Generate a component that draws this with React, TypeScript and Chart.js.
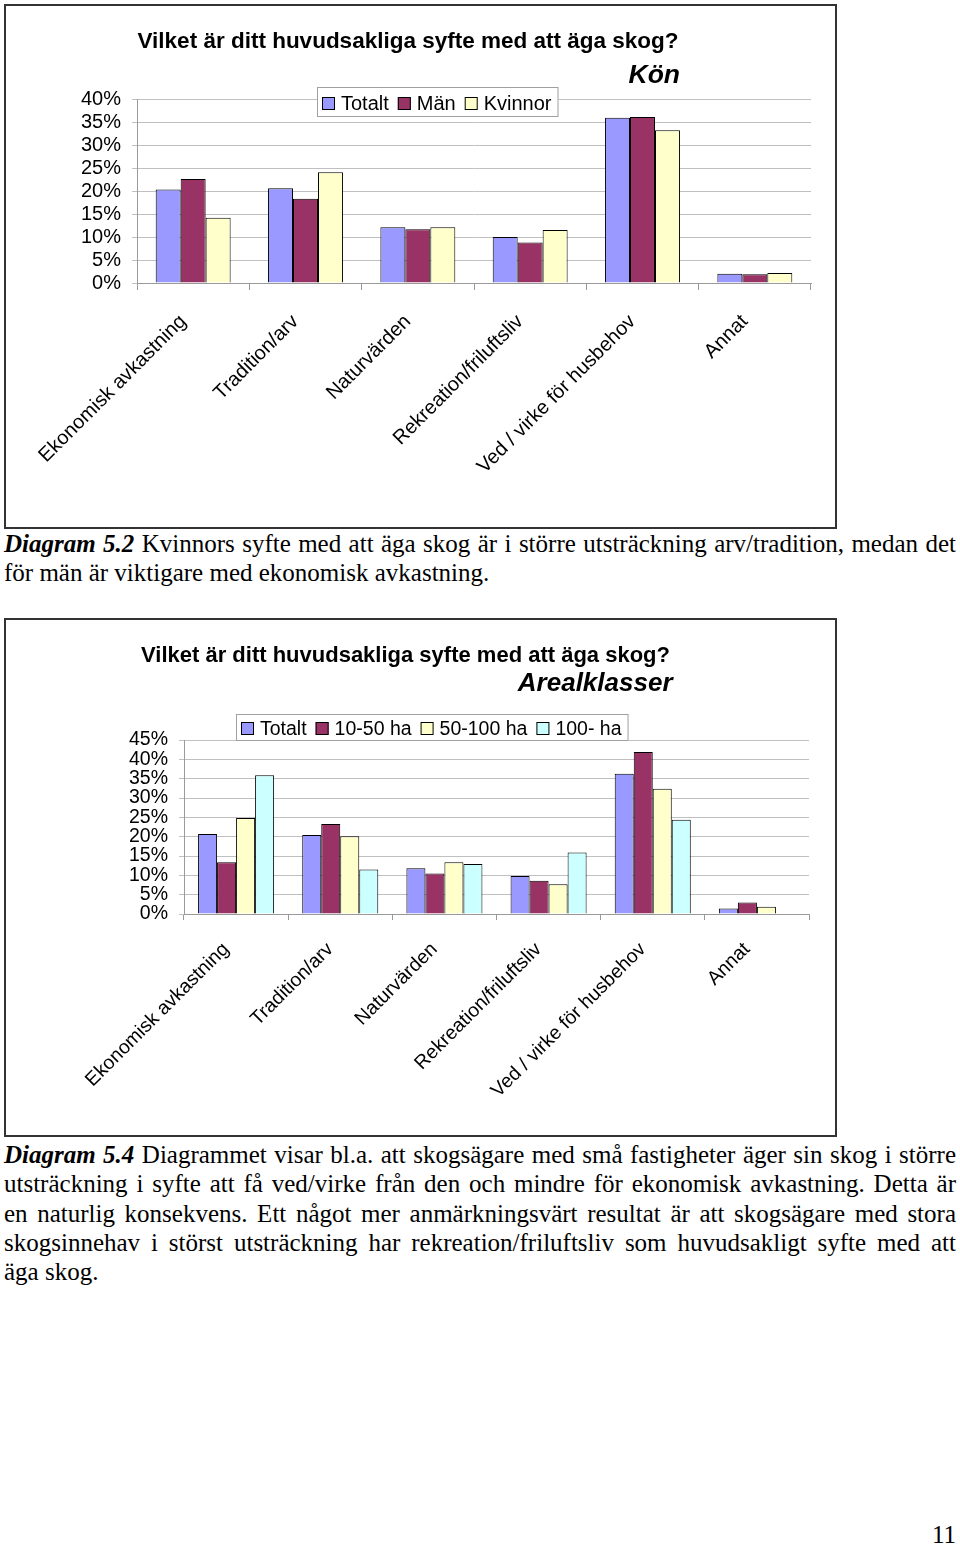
import React, { useEffect, useRef } from 'react';
import { Chart, registerables } from 'chart.js';

Chart.register(...registerables);

const categories = [
  'Ekonomisk avkastning',
  'Tradition/arv',
  'Naturvärden',
  'Rekreation/friluftsliv',
  'Ved / virke för husbehov',
  'Annat',
];

// Diagram 5.2 – Kön
const konLabels = ['Totalt', 'Män', 'Kvinnor'];
const konTotalt = [20.3, 20.6, 12.1, 10.0, 35.9, 2.0];
const konMan = [22.6, 18.3, 11.7, 8.8, 36.1, 1.9];
const konKvinnor = [14.2, 24.1, 12.1, 11.5, 33.2, 2.2];
const konTicks = [0, 5, 10, 15, 20, 25, 30, 35, 40];

// Diagram 5.4 – Arealklasser
const arealLabels = ['Totalt', '10-50 ha', '50-100 ha', '100- ha'];
const arealTotalt = [20.7, 20.4, 11.8, 9.8, 36.3, 1.4];
const areal10to50 = [13.4, 23.3, 10.5, 8.6, 41.9, 3.0];
const areal50to100 = [24.8, 20.1, 13.4, 7.7, 32.4, 1.9];
const areal100plus = [35.9, 11.5, 12.9, 15.9, 24.4, 0];
const arealTicks = [0, 5, 10, 15, 20, 25, 30, 35, 40, 45];

const COLORS = ['#9999FF', '#993366', '#FFFFCC', '#CCFFFF'];
const SANS = '"Liberation Sans", Arial, sans-serif';
const SERIF = '"Liberation Serif", "Times New Roman", serif';

const boxLegendPlugin = {
  id: 'boxLegend',
  afterDraw(chart: any, _args: any, opts: any) {
    const ctx = chart.ctx;
    ctx.save();
    ctx.font = opts.font;
    const items = chart.data.datasets.map((d: any) => ({
      label: d.label,
      color: d.backgroundColor,
      w: ctx.measureText(d.label).width,
    }));
    let w = opts.padL + opts.padR;
    items.forEach((it: any, i: number) => {
      w += opts.sq + opts.gap + it.w + (i < items.length - 1 ? opts.spacing : 0);
    });
    ctx.fillStyle = '#ffffff';
    ctx.fillRect(opts.x, opts.y, w, opts.h);
    ctx.strokeStyle = '#a0a0a0';
    ctx.lineWidth = 1;
    ctx.strokeRect(opts.x + 0.5, opts.y + 0.5, w - 1, opts.h - 1);
    let cx = opts.x + opts.padL;
    items.forEach((it: any) => {
      ctx.fillStyle = it.color;
      ctx.fillRect(cx, opts.sqTop, opts.sq, opts.sq);
      ctx.strokeStyle = '#000';
      ctx.strokeRect(cx + 0.5, opts.sqTop + 0.5, opts.sq - 1, opts.sq - 1);
      cx += opts.sq + opts.gap;
      ctx.fillStyle = '#000';
      ctx.textAlign = 'left';
      ctx.textBaseline = 'alphabetic';
      ctx.fillText(it.label, cx, opts.baseline);
      cx += it.w + opts.spacing;
    });
    ctx.restore();
  },
};

const titlesPlugin = {
  id: 'titles',
  afterDraw(chart: any, _args: any, opts: any) {
    const ctx = chart.ctx;
    ctx.save();
    ctx.fillStyle = '#000';
    ctx.textBaseline = 'alphabetic';
    opts.items.forEach((t: any) => {
      ctx.font = t.font;
      ctx.textAlign = t.align;
      ctx.fillText(t.text, t.x, t.y);
    });
    ctx.restore();
  },
};

function makeConfig(p: any) {
  return {
    type: 'bar',
    data: {
      labels: categories,
      datasets: p.series.map((s: number[], i: number) => ({
        label: p.labels[i],
        data: s,
        backgroundColor: COLORS[i],
        borderColor: '#000',
        borderWidth: 1,
        categoryPercentage: p.catPct,
        barPercentage: 1,
      })),
    },
    options: {
      animation: false,
      responsive: false,
      maintainAspectRatio: false,
      events: [],
      layout: { padding: { left: 0, right: p.padRight, top: p.padTop, bottom: 0 } },
      plugins: {
        legend: { display: false },
        tooltip: { enabled: false },
        boxLegend: p.legend,
        titles: { items: p.titles },
      },
      scales: {
        x: {
          grid: {
            drawOnChartArea: false,
            drawTicks: true,
            tickLength: p.xTickLen,
            color: '#9a9a9a',
            offset: true,
          },
          border: { color: '#9a9a9a' },
          ticks: {
            autoSkip: false,
            minRotation: 45,
            maxRotation: 45,
            padding: p.xPad,
            labelOffset: -10,
            color: '#000',
            font: { family: SANS, size: p.fontSize },
          },
          afterFit: (s: any) => {
            s.height = p.xHeight;
          },
        },
        y: {
          min: 0,
          max: p.ticks[p.ticks.length - 1],
          afterBuildTicks: (s: any) => {
            s.ticks = p.ticks.map((v: number) => ({ value: v }));
          },
          ticks: {
            autoSkip: false,
            callback: (v: any) => v + '%',
            padding: 11,
            color: '#000',
            font: { family: SANS, size: p.fontSize },
          },
          grid: { color: '#c0c0c0', tickLength: 5, lineWidth: 1 },
          border: { color: '#9a9a9a' },
          afterFit: (s: any) => {
            s.width = p.yWidth;
          },
        },
      },
    },
    plugins: [boxLegendPlugin, titlesPlugin],
  };
}

function BarChart({ config, width, height }: { config: any; width: number; height: number }) {
  const ref = useRef<HTMLCanvasElement | null>(null);
  useEffect(() => {
    if (!ref.current) return;
    const chart = new Chart(ref.current, config);
    return () => chart.destroy();
  }, [config]);
  return <canvas ref={ref} width={width} height={height} style={{ display: 'block', width, height }} />;
}

const konConfig = makeConfig({
  labels: konLabels,
  series: [konTotalt, konMan, konKvinnor],
  ticks: konTicks,
  catPct: 0.667,
  padRight: 24,
  padTop: 93,
  yWidth: 131,
  xHeight: 244,
  xTickLen: 7,
  xPad: 20,
  fontSize: 20,
  legend: {
    x: 311, y: 81, h: 30, sq: 13, gap: 6, spacing: 9, padL: 5, padR: 7,
    sqTop: 91, baseline: 104, font: `20px ${SANS}`,
  },
  titles: [
    { text: 'Vilket är ditt huvudsakliga syfte med att äga skog?', x: 402, y: 42, align: 'center', font: `bold 22.5px ${SANS}` },
    { text: 'Kön', x: 674, y: 77, align: 'right', font: `italic bold 26.5px ${SANS}` },
  ],
});

const arealConfig = makeConfig({
  labels: arealLabels,
  series: [arealTotalt, areal10to50, areal50to100, areal100plus],
  ticks: arealTicks,
  catPct: 0.73,
  padRight: 26,
  padTop: 120,
  yWidth: 178,
  xHeight: 221,
  xTickLen: 6,
  xPad: 18,
  fontSize: 19.5,
  legend: {
    x: 230, y: 94, h: 27, sq: 13, gap: 6, spacing: 9, padL: 5, padR: 7,
    sqTop: 102, baseline: 115, font: `19.5px ${SANS}`,
  },
  titles: [
    { text: 'Vilket är ditt huvudsakliga syfte med att äga skog?', x: 399.5, y: 42, align: 'center', font: `bold 22px ${SANS}` },
    { text: 'Arealklasser', x: 666.5, y: 71, align: 'right', font: `italic bold 26px ${SANS}` },
  ],
});

const lineJust: React.CSSProperties = {
  whiteSpace: 'nowrap',
  textAlign: 'justify',
  textAlignLast: 'justify',
};
const lineLeft: React.CSSProperties = { whiteSpace: 'nowrap', textAlign: 'left' };

const textStyle: React.CSSProperties = {
  position: 'absolute',
  left: 4,
  width: 952,
  fontFamily: SERIF,
  fontSize: 25,
  lineHeight: '29.3px',
  color: '#000',
};

const boxStyle = (top: number, h: number): React.CSSProperties => ({
  position: 'absolute',
  left: 4,
  top,
  width: 829,
  height: h,
  border: '2px solid #333',
  background: '#fff',
});

export default function App() {
  return (
    <div style={{ position: 'absolute', left: 0, top: 0, width: 960, height: 1545, background: '#fff', overflow: 'hidden' }}>
      <div style={boxStyle(4, 521)}>
        <BarChart config={konConfig} width={829} height={521} />
      </div>
      <div style={{ ...textStyle, top: 529 }}>
        <div style={lineJust}>
          <b><i>Diagram 5.2</i></b> Kvinnors syfte med att äga skog är i större utsträckning arv/tradition, medan det
        </div>
        <div style={lineLeft}>för män är viktigare med ekonomisk avkastning.</div>
      </div>

      <div style={boxStyle(618, 515)}>
        <BarChart config={arealConfig} width={829} height={515} />
      </div>
      <div style={{ ...textStyle, top: 1140 }}>
        <div style={lineJust}>
          <b><i>Diagram 5.4</i></b> Diagrammet visar bl.a. att skogsägare med små fastigheter äger sin skog i större
        </div>
        <div style={lineJust}>utsträckning i syfte att få ved/virke från den och mindre för ekonomisk avkastning. Detta är</div>
        <div style={lineJust}>en naturlig konsekvens. Ett något mer anmärkningsvärt resultat är att skogsägare med stora</div>
        <div style={lineJust}>skogsinnehav i störst utsträckning har rekreation/friluftsliv som huvudsakligt syfte med att</div>
        <div style={lineLeft}>äga skog.</div>
      </div>

      <div style={{ ...textStyle, top: 1520, textAlign: 'right' }}>11</div>
    </div>
  );
}
